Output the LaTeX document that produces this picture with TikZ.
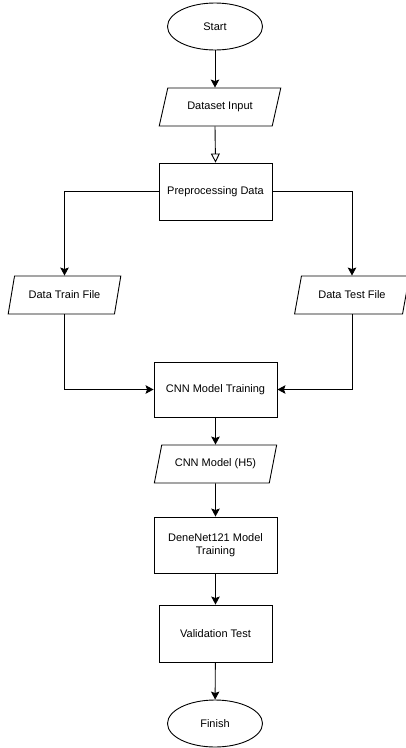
\documentclass[tikz,border=0pt]{standalone}
\usepackage{fontspec}
\setmainfont{Liberation Sans}
\usetikzlibrary{shapes.geometric,arrows.meta}

\tikzset{
  terminal/.style={draw, ellipse, minimum width=95pt, minimum height=47pt, inner sep=0pt},
  process/.style={draw, rectangle, minimum height=56pt, align=center, inner sep=2pt},
  io/.style={draw, trapezium, trapezium left angle=65, trapezium right angle=115,
    trapezium stretches=true, minimum height=38pt, inner sep=1pt},
  flow/.style={-{Stealth[length=8pt,width=8.5pt,inset=1.5pt]}},
  openflow/.style={-{Triangle[open,length=9pt,width=9pt]}},
}

\begin{document}
\begin{tikzpicture}[x=1pt, y=-1pt, line width=0.9pt, font=\fontsize{11}{13}\selectfont]
  \useasboundingbox (0,0) rectangle (406,748);

  \node [terminal] (start) at (215,26.5) {Start};
  \node [io, minimum width=122pt] (input) at (220,107) {Dataset Input};
  \node [process, minimum width=113pt, minimum height=57pt] (prep) at (215.5,191.5) {Preprocessing Data};
  \node [io, minimum width=113pt] (train) at (64.5,295) {Data Train File};
  \node [io, minimum width=115pt] (test) at (352,295) {Data Test File};
  \node [process, minimum width=123pt, minimum height=55pt] (cnn) at (215.5,389.5) {CNN Model Training};
  \node [io, minimum width=123pt] (hfive) at (215.5,464) {CNN Model (H5)};
  \node [process, minimum width=123pt] (dense) at (215.5,545) {DeneNet121 Model\\Training};
  \node [process, minimum width=113pt, minimum height=57pt] (valid) at (215.5,633.5) {Validation Test};
  \node [terminal] (finish) at (215,723.5) {Finish};

  \draw [flow] (start) -- (start |- input.north);
  \draw [openflow] (start |- input.south) -- (prep.north);
  \draw [flow] (prep.west) -| (train.north);
  \draw [flow] (prep.east) -| (test.north);
  \draw [flow] (train.south) |- (cnn.west);
  \draw [flow] (test.south) |- (cnn.east);
  \draw [flow] (cnn) -- (hfive);
  \draw [flow] (hfive) -- (dense);
  \draw [flow] (dense) -- (valid);
  \draw [flow] (valid) -- (finish);
\end{tikzpicture}
\end{document}
